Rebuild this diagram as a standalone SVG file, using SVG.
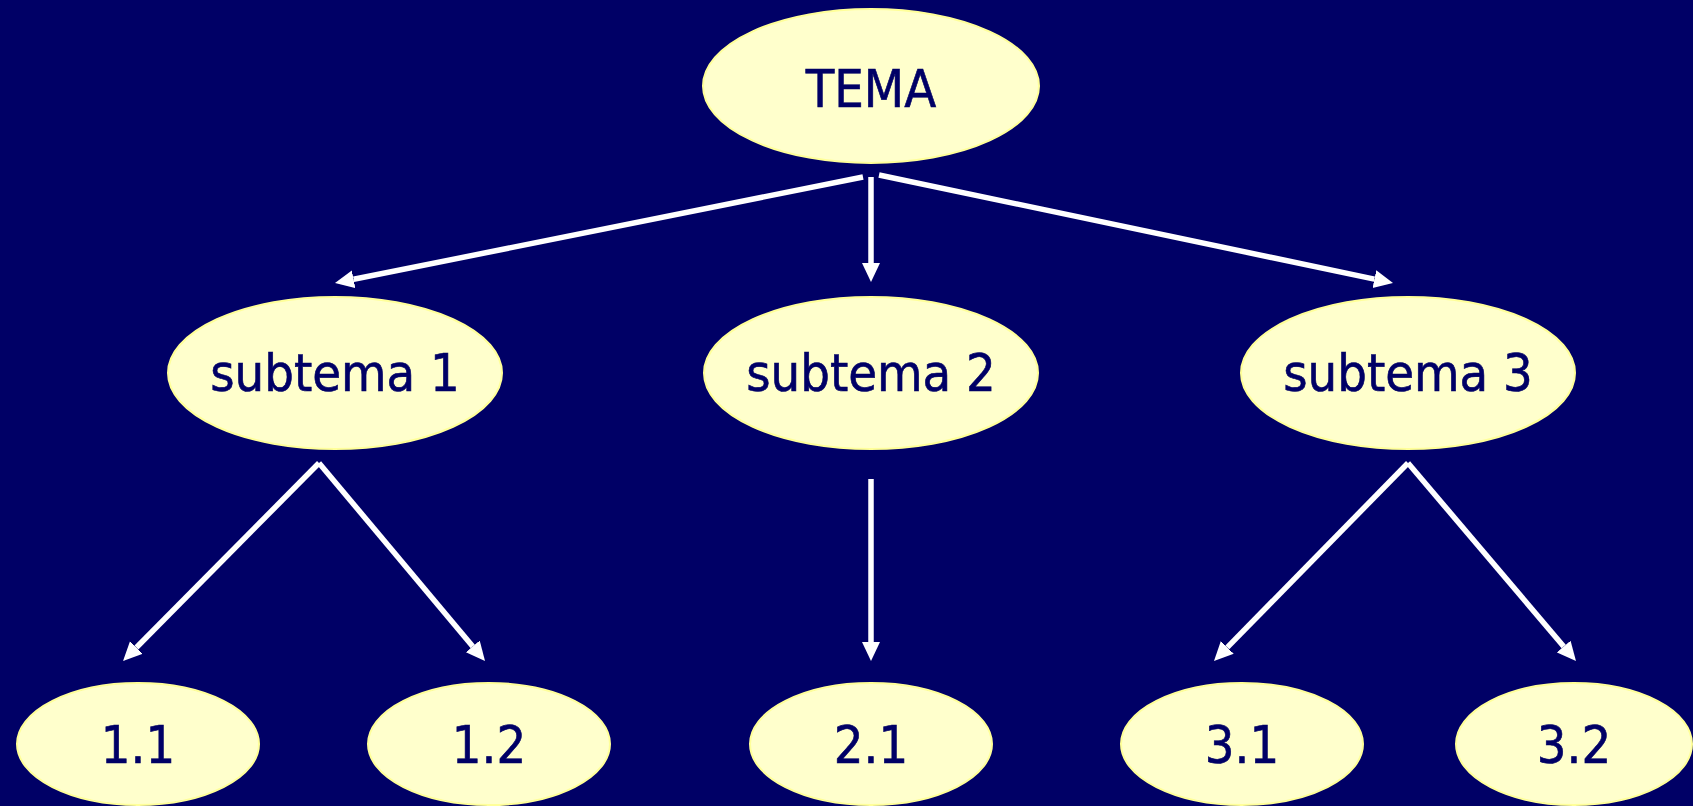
<svg xmlns="http://www.w3.org/2000/svg" width="1693" height="806" viewBox="0 0 1693 806">
  <style>
    .node ellipse { fill: #FFFFCC; stroke: #FFFF99; stroke-width: 2; }
    .node text { font-family: "DejaVu Sans Condensed", "DejaVu Sans", sans-serif; font-stretch: condensed; font-size: 52px; fill: #000066; stroke: #000066; stroke-width: 0.6; text-anchor: middle; }
    .edges line { stroke: #FFFFFF; stroke-width: 5.5; fill: none; marker-end: url(#arrow); }
  </style>
  <defs>
    <marker id="arrow" markerUnits="userSpaceOnUse" markerWidth="20" markerHeight="20" refX="0" refY="9" orient="auto" viewBox="0 0 20 18">
      <path d="M0,0 L19,9 L0,18 z" fill="#FFFFFF"/>
    </marker>
  </defs>
  <rect x="0" y="0" width="1693" height="806" fill="#000066"/>

  <g class="edges" id="connectors">
    <line x1="863" y1="177" x2="353.6" y2="279.3"/>
    <line x1="871" y1="177" x2="871" y2="263"/>
    <line x1="879" y1="175" x2="1374.4" y2="279.1"/>
    <line x1="319" y1="463" x2="136.4" y2="647.5"/>
    <line x1="319" y1="463" x2="472.8" y2="646.4"/>
    <line x1="871" y1="479" x2="871" y2="642"/>
    <line x1="1408" y1="463" x2="1227.3" y2="647.4"/>
    <line x1="1408" y1="463" x2="1563.7" y2="646.5"/>
  </g>

  <g class="node" id="tema">
    <ellipse cx="871" cy="86" rx="168" ry="77"/>
    <text x="871" y="107">TEMA</text>
  </g>
  <g class="node" id="subtema1">
    <ellipse cx="335" cy="373" rx="167" ry="76"/>
    <text x="335" y="391">subtema 1</text>
  </g>
  <g class="node" id="subtema2">
    <ellipse cx="871" cy="373" rx="167" ry="76"/>
    <text x="871" y="391">subtema 2</text>
  </g>
  <g class="node" id="subtema3">
    <ellipse cx="1408" cy="373" rx="167" ry="76"/>
    <text x="1408" y="391">subtema 3</text>
  </g>
  <g class="node" id="n11">
    <ellipse cx="138" cy="744" rx="121" ry="61"/>
    <text x="138" y="763">1.1</text>
  </g>
  <g class="node" id="n12">
    <ellipse cx="489" cy="744" rx="121" ry="61"/>
    <text x="489" y="763">1.2</text>
  </g>
  <g class="node" id="n21">
    <ellipse cx="871" cy="744" rx="121" ry="61"/>
    <text x="871" y="763">2.1</text>
  </g>
  <g class="node" id="n31">
    <ellipse cx="1242" cy="744" rx="121" ry="61"/>
    <text x="1242" y="763">3.1</text>
  </g>
  <g class="node" id="n32">
    <ellipse cx="1574" cy="744" rx="118" ry="61"/>
    <text x="1574" y="763">3.2</text>
  </g>
</svg>
